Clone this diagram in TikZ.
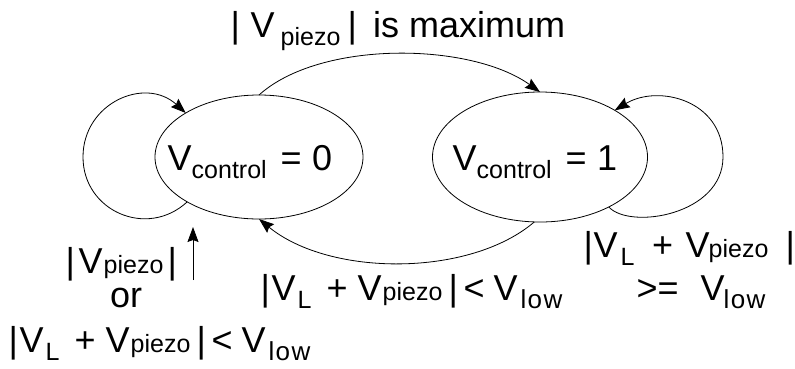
\documentclass[tikz,border=0pt]{standalone}
\usepackage{fontspec}
\setmainfont{Liberation Sans}
\usetikzlibrary{shapes.geometric,arrows.meta}
\newcommand\pc[2]{\rlap{\hspace{#1pt}#2}}
\newcommand\sbs[1]{\raisebox{-8pt}{\fontsize{25}{25}\selectfont #1}}
\newcommand\sml[1]{{\fontsize{25}{25}\selectfont #1}}
\newcommand\lowsub{\raisebox{-8pt}{\fontsize{26}{26}\selectfont\addfontfeature{LetterSpace=5}low}}
\newcommand\condtxt{\pc{0}{|}\pc{11}{V}\pc{37}{\sbs{L}}\pc{66}{+}\pc{97}{V}\pc{122}{\sml{piezo}}\pc{188}{|}\pc{203}{<}\pc{233}{V}\pc{260}{\lowsub}}
\begin{document}
\begin{tikzpicture}[x=1pt,y=-1pt,
  state/.style={draw,ellipse,inner sep=0pt,outer sep=0pt,line width=0.8pt},
  lbl/.style={anchor=base west,inner sep=0pt,font=\fontsize{36}{40}\selectfont},
  conn/.style={line width=0.8pt,-{Stealth[length=15pt,width=11pt,inset=2pt]}}]
\useasboundingbox (0,0) rectangle (795,368);
\node[state,minimum width=208pt,minimum height=124pt] (s0) at (259,157) {};
\node[state,minimum width=215pt,minimum height=130pt] (s1) at (540,157) {};
\node[lbl] (t0) at (167,170) {\pc{0}{V}\pc{24}{\sbs{control}}\pc{113}{=}\pc{144.5}{0}};
\node[lbl] (t1) at (452,170) {\pc{0}{V}\pc{24}{\sbs{control}}\pc{113}{=}\pc{144.5}{1}};
\node[lbl] (top) at (230,37) {\pc{0}{|}\pc{20}{V}\pc{50}{\sbs{piezo}}\pc{117}{|}\pc{142.5}{is maximum}};
\node[lbl] (mid) at (260,300) {\condtxt};
\node[lbl] (r1) at (583,257) {\pc{0}{|}\pc{10}{V}\pc{37}{\sbs{L}}\pc{68.5}{+}\pc{102}{V}\pc{125}{\sml{piezo}}\pc{202}{|}};
\node[lbl] (r2) at (636,300) {\pc{0}{>=}\pc{64}{V}\pc{87}{\lowsub}};
\node[lbl] (l1) at (65,273) {\pc{0}{|}\pc{13}{V}\pc{38}{\sml{piezo}}\pc{102}{|}};
\node[lbl] (l2) at (110,307) {or};
\node[lbl] (l3) at (8,352) {\condtxt};
\draw[conn] (s0.north) .. controls (320,40) and (470,42) .. (s1.north);
\draw[conn] (s1.265) .. controls (470,277) and (330,277) .. (s0.south);
\coordinate (lw) at (83,157);
\draw[conn] (s0.212) .. controls (147,239) and (83,211) .. (lw) .. controls (83,103) and (145,76) .. (s0.149);
\coordinate (re) at (723,157);
\draw[conn] (s1.324) .. controls (630,230) and (723,215) .. (re) .. controls (723,100) and (658,84) .. (s1.32);
\coordinate (va) at (193,280);
\coordinate (vb) at (193,227);
\draw[conn] (va) -- (vb);
\end{tikzpicture}
\end{document}
